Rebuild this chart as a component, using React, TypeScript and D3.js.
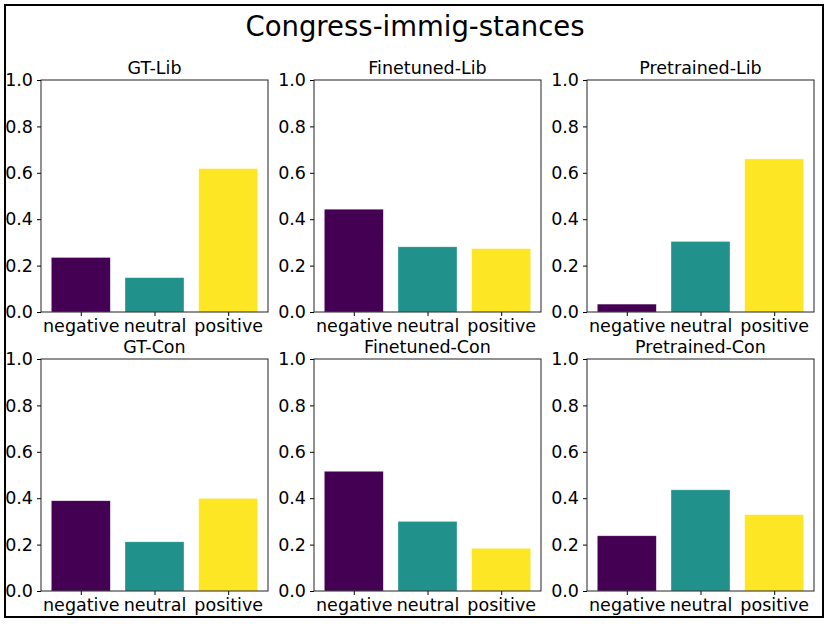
import React, { useEffect, useRef } from 'react';
import * as d3 from 'd3';

const categories = ['negative', 'neutral', 'positive'];
const panelTitles = ['GT-Lib', 'Finetuned-Lib', 'Pretrained-Lib', 'GT-Con', 'Finetuned-Con', 'Pretrained-Con'];

const gtLib = [0.235, 0.148, 0.618];
const finetunedLib = [0.443, 0.281, 0.273];
const pretrainedLib = [0.034, 0.304, 0.66];
const gtCon = [0.389, 0.212, 0.399];
const finetunedCon = [0.516, 0.3, 0.184];
const pretrainedCon = [0.238, 0.436, 0.329];

const yTicks = [0, 0.2, 0.4, 0.6, 0.8, 1.0];
const barColors = ['#440154', '#21918c', '#fde725'];

const App: React.FC = () => {
  const ref = useRef<SVGSVGElement | null>(null);

  useEffect(() => {
    const svg = d3.select(ref.current);
    const width = 830;
    const height = 625;
    svg.selectAll('*').remove();
    svg.attr('width', width).attr('height', height).attr('viewBox', `0 0 ${width} ${height}`);

    const font = 'DejaVu Sans, sans-serif';

    svg.append('rect').attr('width', width).attr('height', height).attr('fill', '#fff');
    svg
      .append('rect')
      .attr('x', 5)
      .attr('y', 5)
      .attr('width', 818)
      .attr('height', 612)
      .attr('fill', 'none')
      .attr('stroke', '#000')
      .attr('stroke-width', 2);

    svg
      .append('text')
      .attr('x', 415)
      .attr('y', 36)
      .attr('text-anchor', 'middle')
      .attr('font-family', font)
      .attr('font-size', 27.5)
      .text('Congress-immig-stances');

    const series = [gtLib, finetunedLib, pretrainedLib, gtCon, finetunedCon, pretrainedCon];
    const lefts = [41, 314, 587];
    const tops = [80, 359];
    const pw = 227;
    const ph = 232;

    series.forEach((values, i) => {
      const left = lefts[i % 3];
      const top = tops[Math.floor(i / 3)];
      const g = svg.append('g').attr('transform', `translate(${left},${top})`);

      const x = d3.scaleLinear().domain([-0.54, 2.54]).range([0, pw]);
      const y = d3.scaleLinear().domain([0, 1]).range([ph, 0]);

      g.selectAll('rect.bar')
        .data(values)
        .join('rect')
        .attr('class', 'bar')
        .attr('x', (_, j) => x(j - 0.4))
        .attr('y', d => y(d))
        .attr('width', x(0.4) - x(-0.4))
        .attr('height', d => y(0) - y(d))
        .attr('fill', (_, j) => barColors[j])
        .attr('stroke', 'rgba(255,255,255,0.5)')
        .attr('stroke-width', 0.6);

      const yAxis = g
        .append('g')
        .call(d3.axisLeft(y).tickValues(yTicks).tickFormat(d3.format('.1f')).tickSizeInner(4).tickSizeOuter(0).tickPadding(4));
      yAxis.select('.domain').remove();
      yAxis.selectAll('text').attr('font-family', font).attr('font-size', 17.5).attr('fill', '#000');
      yAxis.selectAll('line').attr('stroke', '#000');

      const xAxis = g
        .append('g')
        .attr('transform', `translate(0,${ph})`)
        .call(
          d3
            .axisBottom(x)
            .tickValues([0, 1, 2])
            .tickFormat((d) => categories[+d])
            .tickSizeInner(4)
            .tickSizeOuter(0)
            .tickPadding(4)
        );
      xAxis.select('.domain').remove();
      xAxis.selectAll('text').attr('font-family', font).attr('font-size', 17.5).attr('fill', '#000');
      xAxis.selectAll('line').attr('stroke', '#000');

      g.append('rect')
        .attr('width', pw)
        .attr('height', ph)
        .attr('fill', 'none')
        .attr('stroke', '#222')
        .attr('stroke-width', 1);

      g.append('text')
        .attr('x', pw / 2)
        .attr('y', -6)
        .attr('text-anchor', 'middle')
        .attr('font-family', font)
        .attr('font-size', 17.5)
        .text(panelTitles[i]);
    });
  }, []);

  return <svg ref={ref} style={{ position: 'absolute', left: 0, top: 0 }}></svg>;
};

export default App;
